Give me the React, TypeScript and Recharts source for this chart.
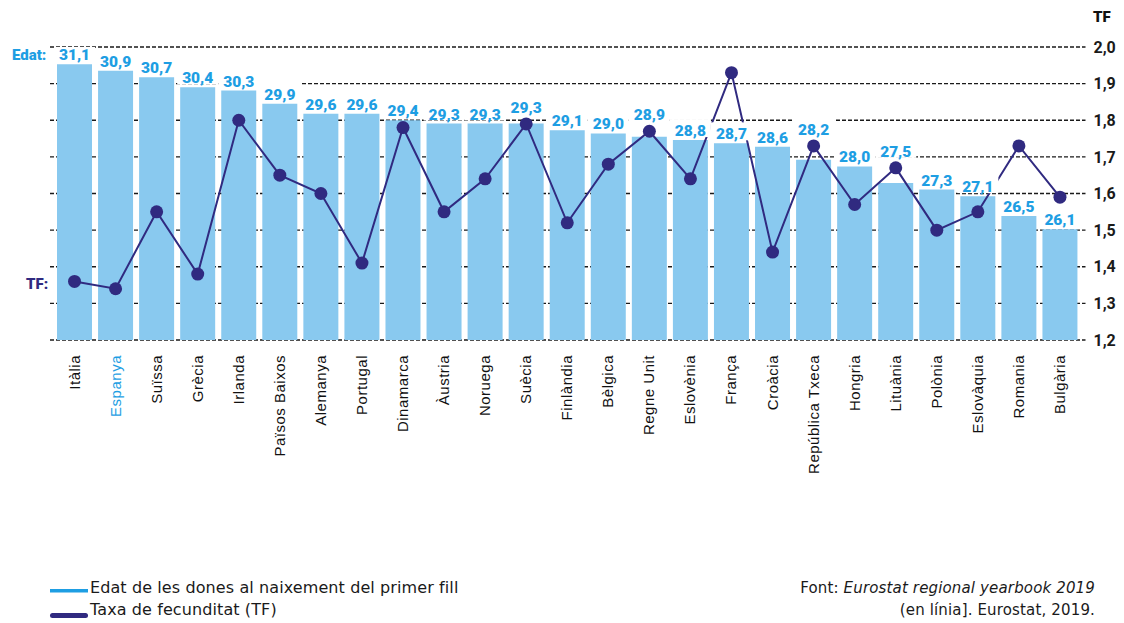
import { ComposedChart, Bar, Line, XAxis, YAxis, CartesianGrid } from "recharts";

const countries = [
  "Itàlia", "Espanya", "Suïssa", "Grècia", "Irlanda", "Països Baixos", "Alemanya", "Portugal",
  "Dinamarca", "Àustria", "Noruega", "Suècia", "Finlàndia", "Bèlgica", "Regne Unit", "Eslovènia",
  "França", "Croàcia", "República Txeca", "Hongria", "Lituània", "Polònia", "Eslovàquia", "Romania", "Bulgària",
];
const ages = [
  31.1, 30.9, 30.7, 30.4, 30.3, 29.9, 29.6, 29.6, 29.4, 29.3, 29.3, 29.3, 29.1,
  29.0, 28.9, 28.8, 28.7, 28.6, 28.2, 28.0, 27.5, 27.3, 27.1, 26.5, 26.1,
];
const fertility = [
  1.36, 1.34, 1.55, 1.38, 1.8, 1.65, 1.6, 1.41, 1.78, 1.55, 1.64, 1.79, 1.52,
  1.68, 1.77, 1.64, 1.93, 1.44, 1.73, 1.57, 1.67, 1.5, 1.55, 1.73, 1.59,
];
const tfTicks = [1.2, 1.3, 1.4, 1.5, 1.6, 1.7, 1.8, 1.9, 2.0];
const tfDomain = [1.2, 2.0];
const ageDomain = [22.74, 31.62];

const BLUE = "#1e9ee3";
const BAR = "#89c9ef";
const INDIGO = "#302a80";
const NUM_FONT = "Roboto, 'Liberation Sans', sans-serif";
const TEXT_FONT = "'DejaVu Sans', 'Liberation Sans', sans-serif";

const TOP = 47;
const AXIS_H = 283;
const PLOT_H = 623 - TOP - AXIS_H;

const data = countries.map((c, i) => ({ country: c, age: ages[i], tf: fertility[i] }));

const fmt = (v: number) => v.toFixed(1).replace(".", ",");

function CountryTick(props: any) {
  const { x, y, payload } = props;
  const bx = x + 5;
  const by = y + 7;
  const name = payload.value;
  return (
    <text
      x={bx}
      y={by}
      transform={`rotate(-90 ${bx} ${by})`}
      textAnchor="end"
      fontFamily="'Liberation Sans', Arial, sans-serif"
      fontSize={15}
      letterSpacing={0.5}
      fill={name === "Espanya" ? BLUE : "#111"}
    >
      {name}
    </text>
  );
}

// value label with a white box, lifted above the TF dot when they would collide
function AgeLabel(props: any) {
  const { cx, cy, index, payload } = props;
  if (cx == null || cy == null) return <g key={`lab-${index}`} />;
  const dotY = TOP + ((tfDomain[1] - payload.tf) / (tfDomain[1] - tfDomain[0])) * PLOT_H;
  const diff = dotY - cy;
  const base = diff < 2 && diff > -25 ? dotY - 11 : cy - 4;
  const w = 41;
  return (
    <g key={`lab-${index}`}>
      <rect x={cx - w / 2} y={base - 17} width={w} height={18} fill="#fff" />
      <text x={cx} y={base} textAnchor="middle" fill={BLUE} fontSize={15.5} fontWeight={900} fontFamily={NUM_FONT}>
        {fmt(payload.age)}
      </text>
    </g>
  );
}

export default function App() {
  return (
    <div style={{ position: "absolute", left: 0, top: 0, width: 1124, height: 623, background: "#fff" }}>
      <ComposedChart width={1124} height={623} data={data} margin={{ top: TOP, right: 0, left: 50, bottom: 0 }}>
        <CartesianGrid yAxisId="right" vertical={false} stroke="#1a1a1a" strokeWidth={1.3} strokeDasharray="4 2" />
        <XAxis
          dataKey="country"
          interval={0}
          tick={<CountryTick />}
          axisLine={false}
          tickLine={false}
          height={AXIS_H}
          padding={{ left: 4, right: 5 }}
        />
        <YAxis yAxisId="left" hide domain={ageDomain} allowDataOverflow />
        <YAxis
          yAxisId="right"
          orientation="right"
          domain={tfDomain}
          ticks={tfTicks}
          width={38.5}
          axisLine={false}
          tickLine={false}
          tickFormatter={(v: number) => fmt(v)}
          tick={{ fill: "#1a1a1a", fontSize: 16, fontWeight: 700, fontFamily: NUM_FONT }}
        />
        <Bar yAxisId="left" dataKey="age" fill={BAR} barSize={35} isAnimationActive={false} />
        <Line yAxisId="right" dataKey="tf" stroke={INDIGO} strokeWidth={2} dot={false} activeDot={false} isAnimationActive={false} />
        <Line yAxisId="left" dataKey="age" stroke="none" dot={<AgeLabel />} activeDot={false} isAnimationActive={false} />
        <Line
          yAxisId="right"
          dataKey="tf"
          stroke="none"
          dot={{ r: 6.5, fill: INDIGO, stroke: INDIGO, strokeWidth: 0 }}
          activeDot={false}
          isAnimationActive={false}
        />
      </ComposedChart>

      <svg width={1124} height={623} style={{ position: "absolute", left: 0, top: 0, pointerEvents: "none" }}>
        <text x={12} y={60} fill={BLUE} fontSize={15} fontWeight={900} fontFamily={NUM_FONT}>Edat:</text>
        <text x={26} y={289} fill={INDIGO} fontSize={15} fontWeight={900} fontFamily={NUM_FONT}>TF:</text>
        <text x={1093} y={22} fill="#111" fontSize={15} fontWeight={900} fontFamily={NUM_FONT}>TF</text>

        <rect x={50} y={589} width={38} height={3.5} fill={BLUE} />
        <text x={90} y={593} fill="#1a1a1a" fontSize={16} letterSpacing={0.1} fontFamily={TEXT_FONT}>
          Edat de les dones al naixement del primer fill
        </text>
        <rect x={50} y={613} width={38} height={5} rx={2.5} fill={INDIGO} />
        <text x={90} y={615} fill="#1a1a1a" fontSize={16} letterSpacing={0.1} fontFamily={TEXT_FONT}>
          Taxa de fecunditat (TF)
        </text>

        <text x={1095} y={593} textAnchor="end" fill="#1a1a1a" fontSize={15} letterSpacing={0.15} fontFamily={TEXT_FONT}>
          Font: <tspan fontStyle="italic">Eurostat regional yearbook 2019</tspan>
        </text>
        <text x={1095} y={615} textAnchor="end" fill="#1a1a1a" fontSize={15} letterSpacing={0.15} fontFamily={TEXT_FONT}>
          (en línia]. Eurostat, 2019.
        </text>
      </svg>
    </div>
  );
}
